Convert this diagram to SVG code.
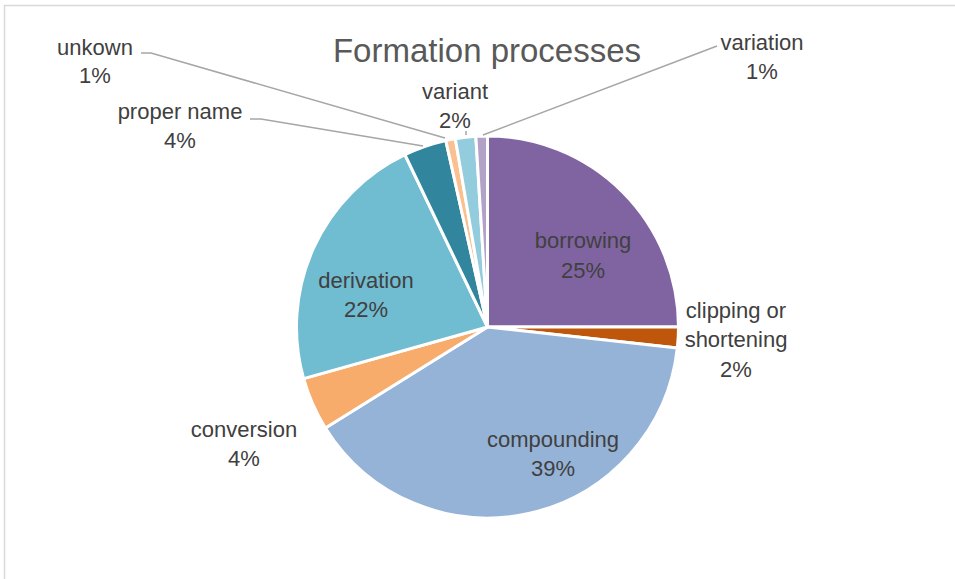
<svg xmlns="http://www.w3.org/2000/svg" width="955" height="579" viewBox="0 0 955 579">
<style>
.s{stroke:#fff;stroke-width:3;stroke-linejoin:round}
.t{font-family:"Liberation Sans",Arial,sans-serif;font-size:22px;fill:#404040;text-anchor:middle}
.ttl{font-family:"Liberation Sans",Arial,sans-serif;font-size:33px;fill:#595959;text-anchor:middle}
.ld{fill:none;stroke:#A6A6A6;stroke-width:1.5}
</style>
<rect width="955" height="579" fill="#fff"/>
<path d="M4.5,579 V5.5 H955" fill="none" stroke="#D9D9D9" stroke-width="1.5"/>
<text class="ttl" x="487" y="62">Formation processes</text>
<g id="borrowing"><path class="s" fill="#8064A2" d="M487.5,327 L487.5,136 A191,191 0 0 1 678.5,327 Z"/><text class="t" x="583" y="248">borrowing</text><text class="t" x="583" y="278">25%</text></g>
<g id="clipping"><path class="s" fill="#BE570C" d="M487.5,327 L678.5,327 A191,191 0 0 1 677.34,347.96 Z"/><text class="t" x="736" y="318">clipping or</text><text class="t" x="736" y="347">shortening</text><text class="t" x="736" y="377">2%</text></g>
<g id="compounding"><path class="s" fill="#95B3D7" d="M487.5,327 L677.34,347.96 A191,191 0 0 1 325.37,427.93 Z"/><text class="t" x="553" y="447">compounding</text><text class="t" x="553" y="476">39%</text></g>
<g id="conversion"><path class="s" fill="#F8AC6B" d="M487.5,327 L325.37,427.93 A191,191 0 0 1 303.63,378.68 Z"/><text class="t" x="244" y="437">conversion</text><text class="t" x="244" y="466">4%</text></g>
<g id="derivation"><path class="s" fill="#70BCD1" d="M487.5,327 L303.63,378.68 A191,191 0 0 1 404.97,154.75 Z"/><text class="t" x="366" y="288">derivation</text><text class="t" x="366" y="317">22%</text></g>
<g id="proper-name"><path class="s" fill="#31859C" d="M487.5,327 L404.97,154.75 A191,191 0 0 1 445.84,140.6 Z"/><text class="t" x="180" y="119">proper name</text><text class="t" x="180" y="148">4%</text></g>
<g id="unkown"><path class="s" fill="#FAC08F" d="M487.5,327 L445.84,140.6 A191,191 0 0 1 455.32,138.73 Z"/><text class="t" x="95" y="55">unkown</text><text class="t" x="95" y="83">1%</text></g>
<g id="variant"><path class="s" fill="#93CDDD" d="M487.5,327 L455.32,138.73 A191,191 0 0 1 475.84,136.36 Z"/><text class="t" x="455" y="99">variant</text><text class="t" x="455" y="128">2%</text></g>
<g id="variation"><path class="s" fill="#B3A2C7" d="M487.5,327 L475.84,136.36 A191,191 0 0 1 487.5,136 Z"/><text class="t" x="762" y="50">variation</text><text class="t" x="762" y="79">1%</text></g>
<g id="connectors">
<path class="ld" d="M141,53 H151 L445,138"/>
<path class="ld" d="M250,119 H261 L423,146"/>
<path class="ld" d="M466,131 V135"/>
<path class="ld" d="M717,46 L483,135"/>
</g>
</svg>
